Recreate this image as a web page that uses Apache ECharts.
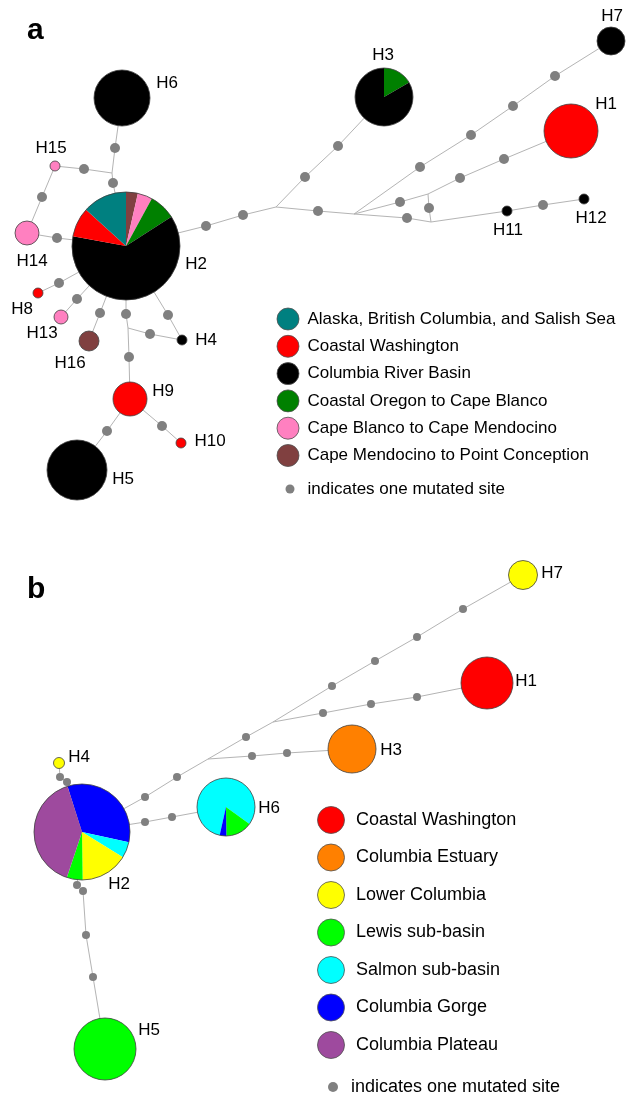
<!DOCTYPE html>
<html>
<head>
<meta charset="utf-8">
<title>Haplotype networks</title>
<script src="https://cdn.jsdelivr.net/npm/echarts@6/dist/echarts.min.js"></script>
<style>
html, body { margin: 0; padding: 0; background: #fff; }
#chart { width: 632px; height: 1098px; }
</style>
</head>
<body>
<div id="chart"></div>
<script>
// --- panel a : regions
var regionsA = ['Alaska, British Columbia, and Salish Sea', 'Coastal Washington', 'Columbia River Basin',
	'Coastal Oregon to Cape Blanco', 'Cape Blanco to Cape Mendocino', 'Cape Mendocino to Point Conception'];
var colorsA = ['#008080', '#ff0000', '#000000', '#008000', '#ff80c0', '#804040'];

// haplotypes: name, x, y, radius, start angle (deg), slices [region, count] clockwise
var nodesA = [
	['H1', 571, 131, 27, 0, [[1, 1]]],
	['H2', 126, 246, 54, 0, [[5, 4], [4, 5], [3, 9], [2, 70], [1, 10], [0, 15]]],
	['H3', 384, 97, 29, 0, [[3, 1], [2, 5]]],
	['H4', 182, 340, 5, 0, [[2, 1]]],
	['H5', 77, 470, 30, 0, [[2, 1]]],
	['H6', 122, 98, 28, 0, [[2, 1]]],
	['H7', 611, 41, 14, 0, [[2, 1]]],
	['H8', 38, 293, 5, 0, [[1, 1]]],
	['H9', 130, 399, 17, 0, [[1, 1]]],
	['H10', 181, 443, 5, 0, [[1, 1]]],
	['H11', 507, 211, 5, 0, [[2, 1]]],
	['H12', 584, 199, 5, 0, [[2, 1]]],
	['H13', 61, 317, 7, 0, [[4, 1]]],
	['H14', 27, 233, 12, 0, [[4, 1]]],
	['H15', 55, 166, 5, 0, [[4, 1]]],
	['H16', 89, 341, 10, 0, [[5, 1]]]
];
// label anchors
var labelsA = [['H1', 606, 104], ['H2', 196, 264], ['H3', 383, 55], ['H4', 206, 340], ['H5', 123, 479],
	['H6', 167, 83], ['H7', 612, 16], ['H8', 22, 309], ['H9', 163, 391], ['H10', 210, 441],
	['H11', 508, 230], ['H12', 591, 218], ['H13', 42, 333], ['H14', 32, 261], ['H15', 51, 148], ['H16', 70, 363]];
// junctions (J) and mutated sites (m)
var pointsA = {
	J1: [276, 207], J2: [354, 214], J3: [428, 194], J4: [431, 222], J5: [112, 173], J6: [128, 328],
	m1: [206, 226], m2: [243, 215], m3: [305, 177], m4: [338, 146], m5: [318, 211],
	m6: [420, 167], m7: [471, 135], m8: [513, 106], m9: [555, 76], m10: [400, 202],
	m11: [460, 178], m12: [504, 159], m13: [429, 208], m14: [407, 218], m15: [543, 205],
	m16: [113, 183], m17: [115, 148], m18: [84, 169], m19: [42, 197], m20: [57, 238],
	m21: [59, 283], m22: [77, 299], m23: [100, 313], m24: [126, 314], m25: [129, 357],
	m26: [150, 334], m27: [168, 315], m28: [107, 431], m29: [162, 426]
};
var pathsA = [
	['H2', 'm1', 'm2', 'J1'], ['J1', 'm3', 'm4', 'H3'], ['J1', 'm5', 'J2'],
	['J2', 'm6', 'm7', 'm8', 'm9', 'H7'], ['J2', 'm10', 'J3', 'm11', 'm12', 'H1'],
	['J3', 'm13', 'J4'], ['J2', 'm14', 'J4', 'H11', 'm15', 'H12'],
	['H2', 'm16', 'J5', 'm17', 'H6'], ['J5', 'm18', 'H15', 'm19', 'H14', 'm20', 'H2'],
	['H2', 'm21', 'H8'], ['H2', 'm22', 'H13'], ['H2', 'm23', 'H16'],
	['H2', 'm24', 'J6', 'm25', 'H9'], ['J6', 'm26', 'H4'], ['H2', 'm27', 'H4'],
	['H9', 'm28', 'H5'], ['H9', 'm29', 'H10']
];

// --- panel b : regions
var regionsB = ['Coastal Washington', 'Columbia Estuary', 'Lower Columbia', 'Lewis sub-basin',
	'Salmon sub-basin', 'Columbia Gorge', 'Columbia Plateau'];
var colorsB = ['#ff0000', '#ff8000', '#ffff00', '#00ff00', '#00ffff', '#0000ff', '#9e4a9e'];

var nodesB = [
	['H1', 487, 683, 26, 0, [[0, 1]]],
	['H2', 82, 832, 48, -17.6, [[5, 25], [4, 4], [2, 12], [3, 4], [6, 30]]],
	['H3', 352, 749, 24, 0, [[1, 1]]],
	['H4', 59, 763, 5.5, 0, [[2, 1]]],
	['H5', 105, 1049, 31, 0, [[3, 1]]],
	['H6', 226, 807, 29, 192.6, [[4, 22], [3, 4], [5, 1]]],
	['H7', 523, 575, 14.5, 0, [[2, 1]]]
];
var labelsB = [['H1', 526, 681], ['H2', 119, 884], ['H3', 391, 750], ['H4', 79, 757],
	['H5', 149, 1030], ['H6', 269, 808], ['H7', 552, 573]];
var pointsB = {
	J1: [208, 759], J2: [273, 722],
	n1: [145, 797], n2: [177, 777], n3: [246, 737], n4: [332, 686], n5: [375, 661],
	n6: [417, 637], n7: [463, 609], n8: [323, 713], n9: [371, 704], n10: [417, 697],
	n11: [252, 756], n12: [287, 753], n13: [145, 822], n14: [172, 817],
	n15: [67, 782], n16: [60, 777], n17: [77, 885], n18: [83, 891], n19: [86, 935], n20: [93, 977]
};
var pathsB = [
	['H2', 'n1', 'n2', 'J1', 'n3', 'J2'], ['J2', 'n4', 'n5', 'n6', 'n7', 'H7'],
	['J2', 'n8', 'n9', 'n10', 'H1'], ['J1', 'n11', 'n12', 'H3'],
	['H2', 'n13', 'n14', 'H6'], ['H2', 'n15', 'n16', 'H4'],
	['H2', 'n17', 'n18', 'n19', 'n20', 'H5']
];

var FONT = 'Liberation Sans, Arial, sans-serif';

function lookup(nodes, points) {
	var p = {};
	nodes.forEach(function(n) { p[n[0]] = [n[1], n[2]]; });
	for (var k in points) p[k] = points[k];
	return p;
}
var ptA = lookup(nodesA, pointsA);
var ptB = lookup(nodesB, pointsB);

function dotsOf(points, prefix) {
	var out = [];
	for (var k in points) {
		if (k.charAt(0) == prefix) out.push(points[k]);
	}
	return out;
}

// pie glyph for each haplotype
function pieRenderer(nodes, colors) {
	return function(params, api) {
		var n = nodes[params.dataIndex];
		var c = api.coord([api.value(0), api.value(1)]);
		var r = api.size([api.value(2), 0])[0];
		var slices = n[5];
		var total = 0;
		slices.forEach(function(s) { total += s[1]; });
		var children = [];
		if (slices.length == 1) {
			children.push({ type: 'circle', shape: { cx: c[0], cy: c[1], r: r },
				style: { fill: colors[slices[0][0]], stroke: '#404040', lineWidth: 0.8 } });
		} else {
			var a = (n[4] - 90) * Math.PI / 180;
			slices.forEach(function(s) {
				var da = s[1] / total * Math.PI * 2;
				children.push({ type: 'sector',
					shape: { cx: c[0], cy: c[1], r0: 0, r: r, startAngle: a, endAngle: a + da, clockwise: true },
					style: { fill: colors[s[0]] } });
				a += da;
			});
			children.push({ type: 'circle', shape: { cx: c[0], cy: c[1], r: r },
				style: { fill: null, stroke: '#404040', lineWidth: 0.8 } });
		}
		return { type: 'group', children: children };
	};
}

function textRenderer(labels) {
	return function(params, api) {
		var c = api.coord([api.value(0), api.value(1)]);
		return { type: 'text', x: c[0], y: c[1],
			style: { text: labels[params.dataIndex][0], fill: '#000', font: '17px ' + FONT,
				align: 'center', verticalAlign: 'middle' } };
	};
}

// legend rows: circle + name
function legendData(names, colors, x, y0, step) {
	return names.map(function(name, i) {
		return { name: name, value: [x, y0 + i * step], itemStyle: { color: colors[i] } };
	});
}

function panelSeries(nodes, labels, pt, paths, dotPrefix, dotSize, colors) {
	return [
		{
			type: 'lines', coordinateSystem: 'cartesian2d', polyline: true, silent: true, z: 1,
			lineStyle: { color: '#b4b4b4', width: 1, opacity: 1 },
			data: paths.map(function(p) { return { coords: p.map(function(k) { return pt[k]; }) }; })
		},
		{
			type: 'scatter', symbol: 'circle', symbolSize: dotSize, silent: true, z: 2,
			itemStyle: { color: '#808080', opacity: 1 },
			data: dotsOf(pt, dotPrefix)
		},
		{
			type: 'custom', renderItem: pieRenderer(nodes, colors), clip: false, silent: true, z: 3,
			encode: { x: 0, y: 1 },
			data: nodes.map(function(n) { return [n[1], n[2], n[3]]; })
		},
		{
			type: 'custom', renderItem: textRenderer(labels), clip: false, silent: true, z: 4,
			encode: { x: 0, y: 1 },
			data: labels.map(function(l) { return [l[1], l[2]]; })
		}
	];
}

function legendSeries(names, colors, x, y0, step, size, gap, dotY, dotSize, fontSize) {
	return [
		{
			type: 'scatter', symbol: 'circle', symbolSize: size, silent: true, z: 5,
			itemStyle: { borderColor: '#505050', borderWidth: 0.8, opacity: 1 },
			label: { show: true, position: 'right', distance: gap, formatter: '{b}',
				color: '#000', fontSize: fontSize, fontFamily: FONT },
			data: legendData(names, colors, x, y0, step)
		},
		{
			type: 'scatter', symbol: 'circle', symbolSize: dotSize, silent: true, z: 5,
			itemStyle: { color: '#808080', opacity: 1 },
			label: { show: true, position: 'right', distance: 13, formatter: '{b}',
				color: '#000', fontSize: fontSize, fontFamily: FONT },
			data: [{ name: 'indicates one mutated site', value: [x + 2, dotY] }]
		}
	];
}

var myChart = echarts.init(document.getElementById('chart'), null, { renderer: 'canvas' });
var series = []
	.concat(panelSeries(nodesA, labelsA, ptA, pathsA, 'm', 10, colorsA))
	.concat(panelSeries(nodesB, labelsB, ptB, pathsB, 'n', 8, colorsB))
	.concat(legendSeries(regionsA, colorsA, 288, 319, 27.3, 22, 8, 489, 9, 17))
	.concat(legendSeries(regionsB, colorsB, 331, 820, 37.5, 27, 11, 1087, 10, 18));

var options = {
	animation: false,
	backgroundColor: '#fff',
	title: [
		{ text: 'a', left: 22, top: 11, textStyle: { fontSize: 30, fontWeight: 'bold', fontFamily: FONT, color: '#000' } },
		{ text: 'b', left: 22, top: 570, textStyle: { fontSize: 30, fontWeight: 'bold', fontFamily: FONT, color: '#000' } }
	],
	grid: { left: 0, right: 0, top: 0, bottom: 0 },
	xAxis: { type: 'value', min: 0, max: 632, show: false },
	yAxis: { type: 'value', min: 0, max: 1098, inverse: true, show: false },
	series: series
};
myChart.setOption(options);
</script>
</body>
</html>
